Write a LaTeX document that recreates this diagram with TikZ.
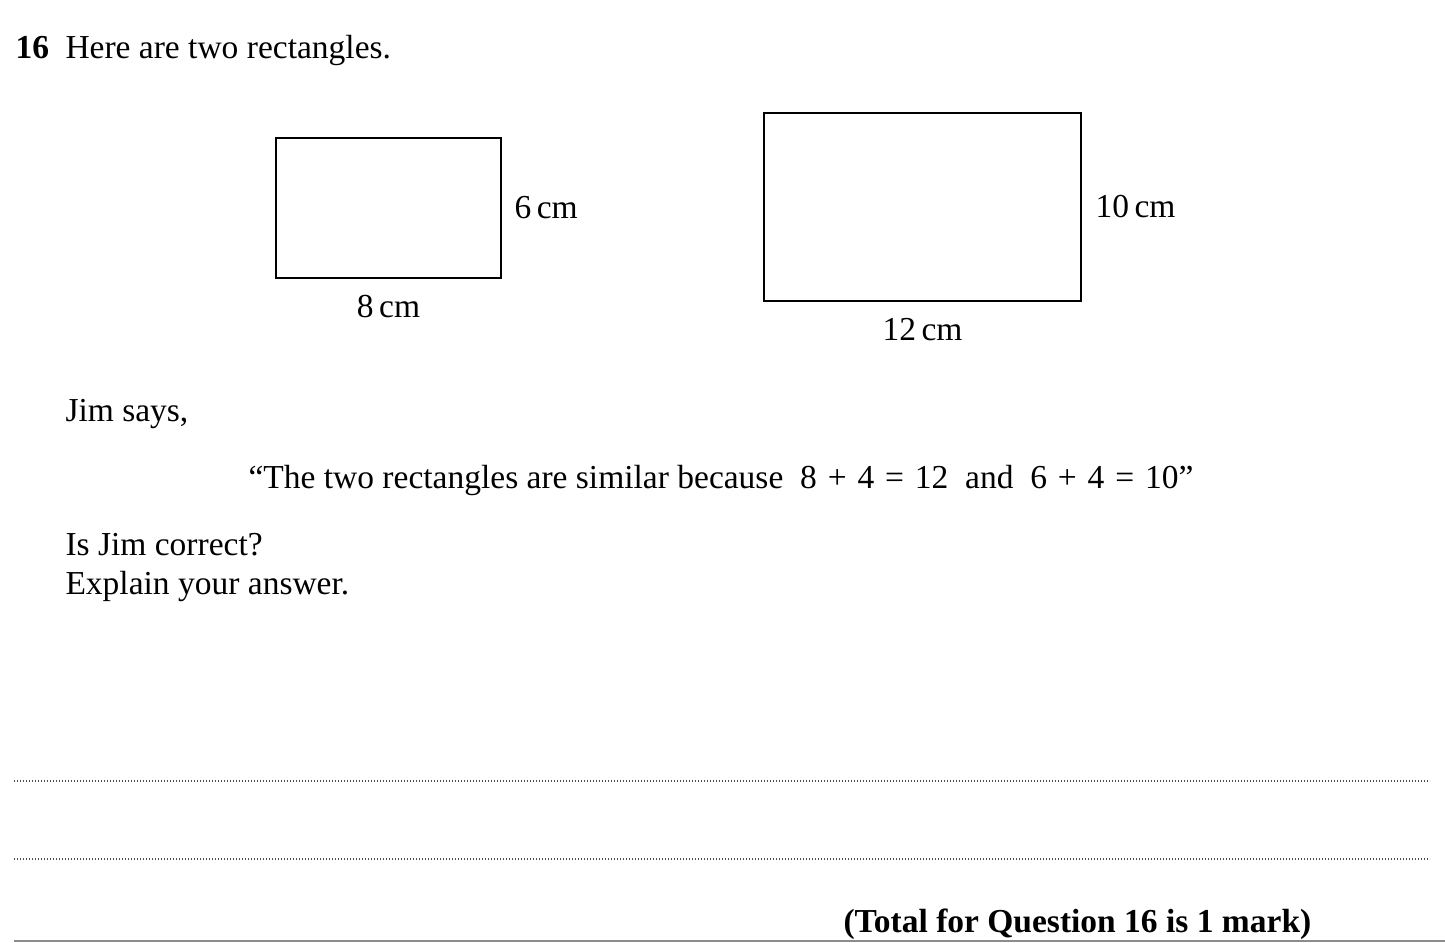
\documentclass[tikz,border=0pt]{standalone}
\usepackage{fontspec}
\setmainfont{Liberation Serif}
\usetikzlibrary{positioning}
\newcommand{\opsp}[1]{\kern1pt\ #1\ \kern1pt}

\begin{document}
\begin{tikzpicture}[x=0.4pt, y=-0.4pt, txt/.style={inner sep=0pt, anchor=base west, font=\fontsize{13.4}{16}\selectfont}, lbl/.style={inner sep=0pt, font=\fontsize{13.4}{16}\selectfont}, rectbox/.style={rectangle, draw=black, line width=0.8pt, inner sep=0pt}, answerline/.style={black!70, line width=0.5pt, dash pattern=on 0.4pt off 0.8pt}]
	\useasboundingbox (0,0) rectangle (1445,942);
	\node[txt] (qnum) at (15,58) {\textbf{16}};
	\node[txt] (intro) at (65,58) {Here are two rectangles.};
	\node[rectbox, minimum width=90pt, minimum height=56pt] (small) at (388.5,208) {};
	\node[lbl] (smallh) [right=4.8pt of small.east, anchor=west] {6\,cm};
	\node[lbl] (smallw) [below=6.4pt of small.south, anchor=north] {8\,cm};
	\node[rectbox, minimum width=126.8pt, minimum height=75.2pt] (large) at (922.5,207) {};
	\node[lbl] (largeh) [right=5.2pt of large.east, anchor=west] {10\,cm};
	\node[lbl] (largew) [below=6.4pt of large.south, anchor=north] {12\,cm};
	\node[txt] (says) at (65,421) {Jim says,};
	\node[txt] (quote) at (248,488) {“The two rectangles are similar because \ 8\opsp{+}4\opsp{=}12 \ and \ 6\opsp{+}4\opsp{=}10”};
	\node[txt] (ask) at (65,555) {Is Jim correct?};
	\node[txt] (explain) at (65,594) {Explain your answer.};
	\draw[answerline] (14,781) -- (1430,781);
	\draw[answerline] (14,859) -- (1430,859);
	\node[txt] (total) at (843,932) {\textbf{(Total for Question 16 is 1 mark)}};
	\draw[black!45, line width=0.6pt] (14,941) -- (1445,941);
\end{tikzpicture}
\end{document}
